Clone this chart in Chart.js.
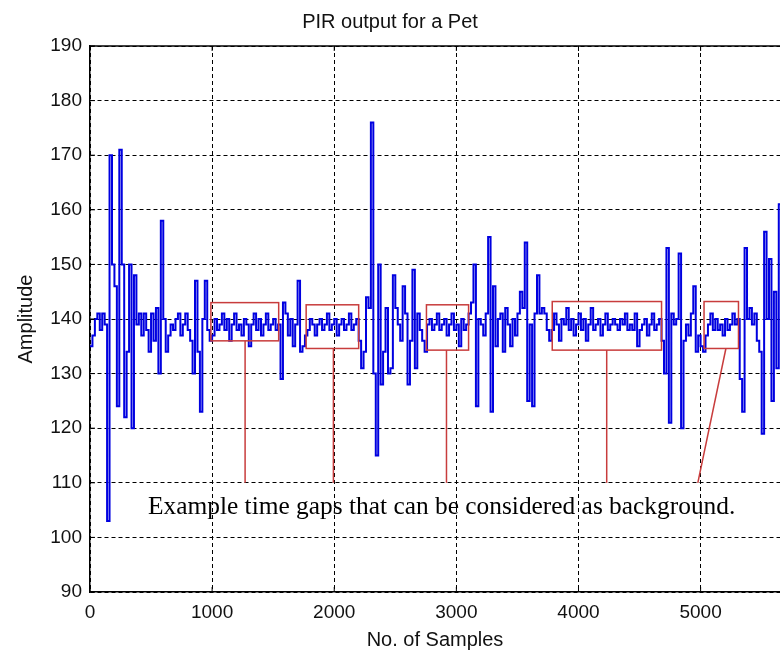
<!DOCTYPE html>
<html lang="en">
<head>
<meta charset="UTF-8">
<title>PIR output for a Pet</title>
<script src="https://cdn.jsdelivr.net/npm/chart.js"></script>
<style>
  html, body { margin: 0; padding: 0; background: #fff; }
  canvas { display: block; }
</style>
</head>
<body>
<canvas id="pirChart" width="780" height="652"></canvas>
<script>
// one reading every SAMPLE_STEP samples
const SAMPLE_STEP = 20;
const amplitude = [
  // 0 - 980
  135, 137, 140, 141, 138, 141, 139, 103, 170, 150,
  146, 124, 171, 150, 122, 134, 150, 120, 148, 139,
  141, 137, 141, 138, 134, 141, 136, 142, 130, 158,
  140, 134, 137, 139, 138, 140, 141, 137, 139, 141,
  138, 136, 130, 147, 134, 123, 140, 147, 138, 136,
  // 1000 - 1540 (first quiet stretch)
  137, 140, 138, 139, 141, 138, 140, 136, 139, 141,
  138, 139, 137, 140, 139, 135, 139, 141, 138, 140,
  137, 139, 141, 138, 139, 140, 138, 139,
  // 1560 - 1760
  129, 143, 141, 137, 140, 135, 139, 147, 134, 135, 137,
  // 1780 - 2180 (second quiet stretch)
  138, 140, 139, 137, 139, 140, 138, 139, 141, 138,
  139, 140, 137, 139, 140, 138, 139, 141, 138, 139, 140,
  // 2200 - 2740
  136, 131, 134, 144, 142, 176, 130, 115, 150, 128,
  134, 142, 130, 131, 148, 142, 139, 136, 146, 141,
  128, 136, 149, 131, 141, 138, 136, 134,
  // 2760 - 3100 (third quiet stretch)
  139, 140, 138, 139, 141, 138, 139, 140, 137, 139,
  141, 138, 139, 135, 140, 138, 139, 141,
  // 3120 - 3760
  143, 150, 124, 140, 139, 137, 141, 155, 123, 146,
  135, 140, 141, 134, 142, 139, 135, 140, 137, 141,
  145, 142, 154, 125, 139, 124, 141, 148, 141, 142,
  141, 138, 136,
  // 3780 - 4660 (long quiet stretch)
  138, 141, 139, 136, 140, 139, 142, 138, 140, 137,
  139, 141, 138, 140, 136, 139, 142, 138, 139, 140,
  137, 139, 141, 138, 139, 140, 139, 138, 140, 139,
  141, 138, 139, 138, 141, 135, 138, 139, 140, 137,
  139, 141, 138, 139, 140,
  // 4680 - 5020
  136, 130, 153, 121, 141, 139, 140, 152, 120, 136,
  139, 137, 141, 146, 134, 137, 135, 134,
  // 5040 - 5300 (last quiet stretch)
  137, 139, 141, 138, 140, 138, 139, 137, 140, 138,
  139, 141, 139, 140,
  // 5320 - 5660
  129, 123, 153, 140, 142, 139, 141, 136, 134, 119,
  156, 140, 151, 125, 145, 131, 161, 148
];
const xTickValues = [0, 1000, 2000, 3000, 4000, 5000];
const yTickValues = [90, 100, 110, 120, 130, 140, 150, 160, 170, 180, 190];

// red boxes around the quiet stretches, in samples / amplitude
const gapStart = [990, 1770, 2755, 3785, 5028];
const gapEnd   = [1545, 2200, 3100, 4680, 5310];
const gapLow   = [136, 134.6, 134.3, 134.3, 134.6];
const gapHigh  = [143, 142.6, 142.6, 143.2, 143.2];
// pointer lines from each box down to the note
const pointerTop    = [1270, 1993, 2919, 4231, 5207];
const pointerBottom = [1270, 1993, 2919, 4231, 4977];
const pointerEnd = 110;
const noteText = 'Example time gaps that can be considered as background.';
const noteAt = [475, 105.5];

const sans = 'Liberation Sans, Arial, sans-serif';

// solid top edge plus MATLAB style inward tick marks
const frame = {
  id: 'frame',
  afterDraw(chart) {
    const {ctx, chartArea: a, scales: {x, y}} = chart;
    ctx.save();
    ctx.strokeStyle = '#000';
    ctx.lineWidth = 1.5;
    ctx.beginPath();
    ctx.moveTo(a.left, a.top);
    ctx.lineTo(a.right, a.top);
    ctx.stroke();
    ctx.lineWidth = 1;
    ctx.beginPath();
    x.ticks.forEach(t => {
      const px = x.getPixelForValue(t.value);
      ctx.moveTo(px, a.bottom); ctx.lineTo(px, a.bottom - 5);
      ctx.moveTo(px, a.top); ctx.lineTo(px, a.top + 5);
    });
    y.ticks.forEach(t => {
      const py = y.getPixelForValue(t.value);
      ctx.moveTo(a.left, py); ctx.lineTo(a.left + 5, py);
    });
    ctx.stroke();
    ctx.restore();
  }
};

const gapNotes = {
  id: 'gapNotes',
  afterDatasetsDraw(chart) {
    const {ctx, scales: {x, y}} = chart;
    ctx.save();
    ctx.strokeStyle = '#c83c3c';
    ctx.lineWidth = 1.5;
    gapStart.forEach((s, i) => {
      const l = x.getPixelForValue(s), r = x.getPixelForValue(gapEnd[i]);
      const t = y.getPixelForValue(gapHigh[i]), b = y.getPixelForValue(gapLow[i]);
      ctx.strokeRect(l, t, r - l, b - t);
      ctx.beginPath();
      ctx.moveTo(x.getPixelForValue(pointerTop[i]), b);
      ctx.lineTo(x.getPixelForValue(pointerBottom[i]), y.getPixelForValue(pointerEnd));
      ctx.stroke();
    });
    ctx.fillStyle = '#000';
    ctx.font = '25.4px "Liberation Serif", "Times New Roman", serif';
    ctx.textBaseline = 'middle';
    ctx.fillText(noteText, x.getPixelForValue(noteAt[0]), y.getPixelForValue(noteAt[1]));
    ctx.restore();
  }
};

new Chart(document.getElementById('pirChart'), {
  type: 'line',
  data: {
    datasets: [{
      data: amplitude.map((v, i) => ({x: i * SAMPLE_STEP, y: v})),
      borderColor: '#0000e0',
      borderWidth: 2,
      pointRadius: 0,
      stepped: true
    }]
  },
  options: {
    responsive: false,
    animation: false,
    devicePixelRatio: 1,
    layout: {padding: 0},
    plugins: {
      legend: {display: false},
      tooltip: {enabled: false},
      title: {
        display: true,
        text: 'PIR output for a Pet',
        color: '#111',
        font: {family: sans, size: 20, weight: 'normal'},
        padding: {top: 10, bottom: 12}
      }
    },
    scales: {
      x: {
        type: 'linear',
        min: 0,
        max: 5650,
        afterFit: s => { s.height = 60; },
        afterBuildTicks: s => { s.ticks = xTickValues.map(v => ({value: v})); },
        ticks: {
          autoSkip: false,
          maxRotation: 0,
          padding: 9,
          color: '#111',
          font: {family: sans, size: 19},
          callback: v => String(v)
        },
        grid: {color: '#000', drawTicks: false},
        border: {color: '#000', width: 1.5, dash: [4, 3]},
        title: {
          display: true,
          text: 'No. of Samples',
          color: '#111',
          font: {family: sans, size: 20},
          padding: {top: 0, bottom: 0}
        }
      },
      y: {
        min: 90,
        max: 190,
        afterFit: s => { s.width = 90; },
        afterBuildTicks: s => { s.ticks = yTickValues.map(v => ({value: v})); },
        ticks: {
          autoSkip: false,
          padding: 8,
          color: '#111',
          font: {family: sans, size: 19},
          callback: v => String(v)
        },
        grid: {color: '#000', drawTicks: false},
        border: {color: '#000', width: 1.5, dash: [4, 3]},
        title: {
          display: true,
          text: 'Amplitude',
          color: '#111',
          font: {family: sans, size: 20},
          padding: {top: 14, bottom: 0}
        }
      }
    }
  },
  plugins: [frame, gapNotes]
});
</script>
</body>
</html>
